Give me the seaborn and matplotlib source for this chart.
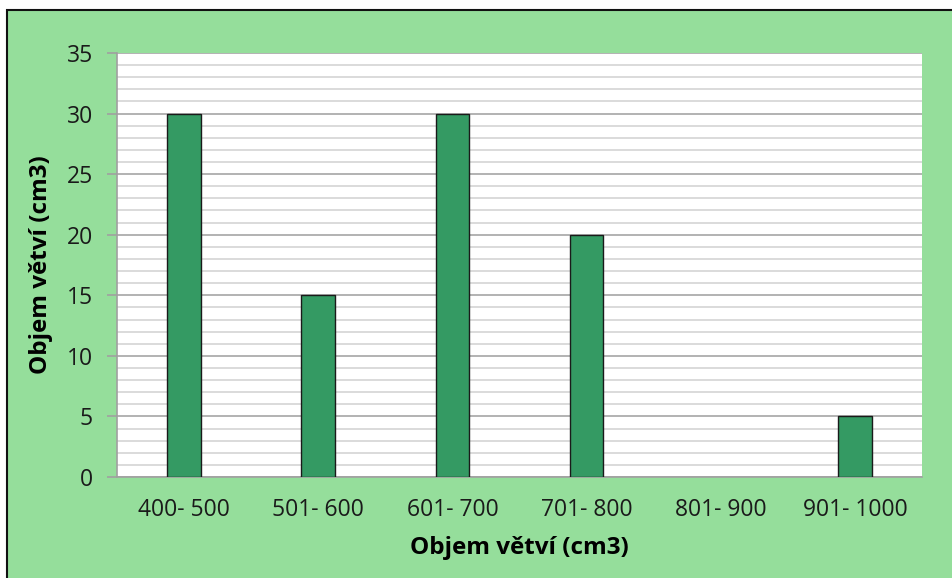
import matplotlib
matplotlib.use("Agg")
import matplotlib.pyplot as plt
import matplotlib.patches as mpatches
from matplotlib.ticker import MultipleLocator
import seaborn as sns
import pandas as pd

categories = ["400- 500", "501- 600", "601- 700", "701- 800", "801- 900", "901- 1000"]
values = [30, 15, 30, 20, 0, 5]
y_ticks = [0, 5, 10, 15, 20, 25, 30, 35]
axis_title = "Objem větví (cm3)"

sns.set_theme(style="white")
plt.rcParams["font.family"] = ["Open Sans", "DejaVu Sans"]

W, H = 952, 578
fig = plt.figure(figsize=(W / 100, H / 100), dpi=100)
fig.patch.set_facecolor("white")

# green chart area with a dark frame (frame runs off the right and bottom edges)
bg = mpatches.Rectangle((7 / W, -0.05), 1.1, 1 - 10 / H + 0.05,
                        transform=fig.transFigure, facecolor="#95DE9B",
                        edgecolor="#111111", linewidth=1.5, zorder=-10)
fig.patches.append(bg)

ax = fig.add_axes([117 / W, 1 - 477 / H, (922 - 117) / W, (477 - 53) / H])
ax.set_facecolor("white")

df = pd.DataFrame({"cat": categories, "val": values})
sns.barplot(data=df, x="cat", y="val", ax=ax, color="#349A63", saturation=1,
            width=0.25, edgecolor="#1a1a1a", linewidth=1.0, zorder=3)
# empty classes get no outline on the baseline
for p in ax.patches:
    if p.get_height() == 0:
        p.set_edgecolor("none")

ax.set_ylim(0, 35)
ax.set_yticks(y_ticks)
ax.yaxis.set_minor_locator(MultipleLocator(1))
ax.grid(which="major", axis="y", color="#A6A6A6", linewidth=1.2, zorder=0)
ax.grid(which="minor", axis="y", color="#D4D4D4", linewidth=1.2, zorder=0)
ax.set_axisbelow(True)

for s in ["top", "right"]:
    ax.spines[s].set_visible(False)
ax.spines["left"].set_color("#A0A0A0")
ax.spines["bottom"].set_color("#A0A0A0")
ax.spines["left"].set_linewidth(1.2)
ax.spines["bottom"].set_linewidth(1.2)

ax.tick_params(axis="y", which="major", direction="out", length=7.2, width=1.2,
               color="#A0A0A0", pad=10, labelsize=16.5, labelcolor="#1a1a1a", left=True)
ax.tick_params(axis="y", which="minor", length=0)
ax.tick_params(axis="x", length=0, pad=15, labelsize=16.5, labelcolor="#1a1a1a")

ax.set_xlabel(axis_title, fontsize=17.5, fontweight="bold", color="black", labelpad=10)
ax.set_ylabel(axis_title, fontsize=17.5, fontweight="bold", color="black", labelpad=10)

fig.savefig("out.png", dpi=100)
